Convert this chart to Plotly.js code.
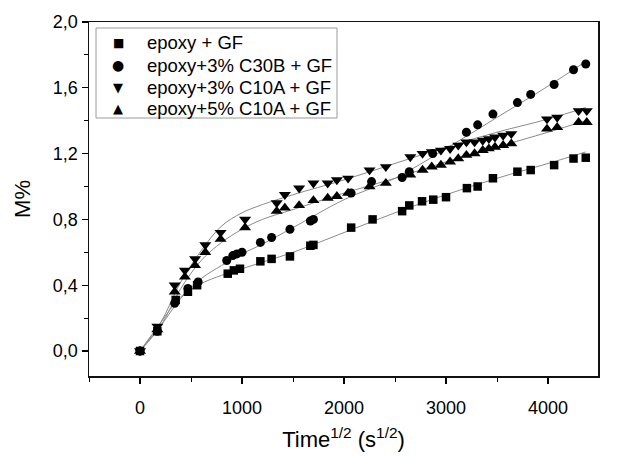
<!DOCTYPE html>
<html>
<head>
<meta charset="utf-8">
<script src="https://cdn.plot.ly/plotly-3.0.1.min.js"></script>
<style>html,body{margin:0;padding:0;background:#fff;}#chart{width:631px;height:456px;}</style>
</head>
<body>
<div id="chart"></div>
<script>
// Series names
const seriesNames = ["epoxy + GF", "epoxy+3% C30B + GF", "epoxy+3% C10A + GF", "epoxy+5% C10A + GF"];
const legendSymbols = ["\u25A0", "\u25CF", "\u25BC", "\u25B2"];

// epoxy + GF (squares)
const sqX = [0, 170, 350, 470, 560, 860, 920, 980, 1180, 1290, 1470, 1670, 1700, 2070, 2280, 2570, 2640, 2765, 2875, 3000, 3205, 3310, 3460, 3700, 3830, 4060, 4250, 4370];
const sqY = [0, 0.12, 0.31, 0.36, 0.40, 0.47, 0.49, 0.50, 0.545, 0.56, 0.575, 0.64, 0.645, 0.75, 0.80, 0.85, 0.885, 0.91, 0.92, 0.935, 0.99, 1.0, 1.05, 1.09, 1.10, 1.13, 1.17, 1.175];

// epoxy+3% C30B + GF (circles)
const ciX = [0, 170, 340, 470, 570, 850, 910, 950, 1000, 1180, 1290, 1470, 1670, 1700, 2070, 2270, 2570, 2640, 2870, 3200, 3310, 3460, 3700, 3830, 4060, 4250, 4370];
const ciY = [0, 0.12, 0.29, 0.38, 0.42, 0.55, 0.58, 0.59, 0.60, 0.66, 0.69, 0.74, 0.79, 0.80, 0.96, 1.03, 1.055, 1.09, 1.20, 1.33, 1.375, 1.44, 1.51, 1.56, 1.62, 1.71, 1.745];

// epoxy+3% C10A + GF (triangle down) and epoxy+5% C10A + GF (triangle up)
const triX = [0, 170, 340, 440, 540, 640, 790, 1030, 1340, 1420, 1560, 1700, 1840, 1930, 2040, 2250, 2410, 2650, 2770, 2860, 2950, 3040, 3120, 3200, 3280, 3360, 3420, 3480, 3560, 3640, 3990, 4090, 4300, 4380];
const tdY = [0, 0.15, 0.40, 0.49, 0.56, 0.645, 0.72, 0.80, 0.90, 0.95, 0.99, 1.02, 1.02, 1.04, 1.05, 1.10, 1.12, 1.18, 1.20, 1.21, 1.22, 1.23, 1.25, 1.27, 1.27, 1.28, 1.29, 1.30, 1.31, 1.32, 1.41, 1.42, 1.46, 1.46];
const tuY = [0, 0.13, 0.36, 0.45, 0.52, 0.60, 0.68, 0.75, 0.85, 0.87, 0.885, 0.915, 0.93, 0.94, 0.96, 1.00, 1.02, 1.07, 1.10, 1.12, 1.13, 1.15, 1.17, 1.19, 1.20, 1.22, 1.23, 1.24, 1.25, 1.26, 1.35, 1.36, 1.39, 1.39];

// Fitted curves
const fitX = [0, 200, 400, 600, 800, 1000, 1200, 1500, 2000, 2500, 3000, 3500, 4000, 4370];
const fitSq = [0, 0.17, 0.33, 0.41, 0.46, 0.50, 0.54, 0.60, 0.72, 0.84, 0.95, 1.05, 1.14, 1.21];
const fitCi = [0, 0.15, 0.32, 0.44, 0.52, 0.59, 0.65, 0.75, 0.92, 1.05, 1.23, 1.42, 1.61, 1.76];
const fitTd = [0, 0.17, 0.42, 0.61, 0.76, 0.84, 0.89, 0.95, 1.04, 1.14, 1.24, 1.33, 1.41, 1.48];
const fitTu = [0, 0.15, 0.38, 0.55, 0.66, 0.74, 0.80, 0.86, 0.96, 1.05, 1.15, 1.24, 1.33, 1.40];

// Axis ticks
const xTicks = [0, 1000, 2000, 3000, 4000];
const yTicks = [0, 0.4, 0.8, 1.2, 1.6, 2.0];

const FONT = 'Liberation Sans, Arial, sans-serif';
const fitLine = {color: '#8a8a8a', width: 1, shape: 'spline'};
function fit(y) {
  return {x: fitX, y: y, mode: 'lines', line: fitLine, showlegend: false, hoverinfo: 'skip'};
}
function pts(x, y, name, symbol, size) {
  return {x: x, y: y, name: name, mode: 'markers', type: 'scatter', showlegend: false,
    marker: {symbol: symbol, size: size, color: '#000', line: {width: 0}}};
}

const data = [
  fit(fitSq), fit(fitCi), fit(fitTd), fit(fitTu),
  pts(sqX, sqY, seriesNames[0], 'square', 8.5),
  pts(ciX, ciY, seriesNames[1], 'circle', 9),
  pts(triX, tdY, seriesNames[2], 'triangle-down', 10.5),
  pts(triX, tuY, seriesNames[3], 'triangle-up', 10.5)
];

// Plot area in pixels: left 89, right 598, top 22, bottom 376
const PL = 89, PW = 509, PB = 376, PH = 354;
const px = x => (x - PL) / PW;
const py = y => (PB - y) / PH;

// Manual legend (box, symbols, texts)
const legendRowsY = [43, 65, 87, 108];
const symbolSizes = [12, 14, 13, 13];
const annotations = [];
seriesNames.forEach((name, i) => {
  annotations.push({xref: 'paper', yref: 'paper', x: px(118), y: py(legendRowsY[i]),
    xanchor: 'center', yanchor: 'middle', showarrow: false, text: legendSymbols[i],
    font: {family: 'DejaVu Sans, sans-serif', size: symbolSizes[i], color: '#000'}});
  annotations.push({xref: 'paper', yref: 'paper', x: px(145), y: py(legendRowsY[i]),
    xanchor: 'left', yanchor: 'middle', showarrow: false, text: name,
    font: {family: FONT, size: 18.5, color: '#000'}});
});

const axisFont = {family: FONT, size: 18, color: '#000'};
const layout = {
  width: 631, height: 456,
  margin: {l: 89, r: 33, t: 22, b: 80, pad: 0},
  paper_bgcolor: '#fff', plot_bgcolor: '#fff',
  separators: ',.',
  font: {family: FONT, color: '#000'},
  showlegend: false,
  annotations: annotations,
  shapes: [{type: 'rect', xref: 'paper', yref: 'paper', x0: px(96), x1: px(337), y0: py(118), y1: py(28),
    line: {color: '#9a9a9a', width: 1}, fillcolor: 'rgba(0,0,0,0)', layer: 'above'}],
  xaxis: {
    range: [-500, 4490], tickvals: xTicks, tickformat: 'd',
    ticks: 'outside', ticklen: 6, tickwidth: 1.2, tickcolor: '#000',
    ticklabelstandoff: 9,
    minor: {dtick: 500, tick0: 0, ticks: 'outside', ticklen: 4, tickcolor: '#000', tickwidth: 1},
    showline: true, linecolor: '#111', linewidth: 1.5, mirror: true,
    showgrid: false, zeroline: false,
    tickfont: axisFont,
    title: {text: 'Time<sup>1/2</sup> (s<sup>1/2</sup>)', font: {size: 22, family: FONT}, standoff: 14}
  },
  yaxis: {
    range: [-0.152, 2.0], tickvals: yTicks, tickformat: '.1f',
    ticks: 'outside', ticklen: 6, tickwidth: 1.2, tickcolor: '#000',
    minor: {dtick: 0.2, tick0: 0, ticks: 'outside', ticklen: 4, tickcolor: '#000', tickwidth: 1},
    showline: true, linecolor: '#111', linewidth: 1.5, mirror: true,
    showgrid: false, zeroline: false,
    tickfont: axisFont,
    title: {text: 'M%', font: {size: 22, family: FONT}, standoff: 16}
  }
};

Plotly.newPlot('chart', data, layout, {displayModeBar: false, staticPlot: true});
</script>
</body>
</html>
